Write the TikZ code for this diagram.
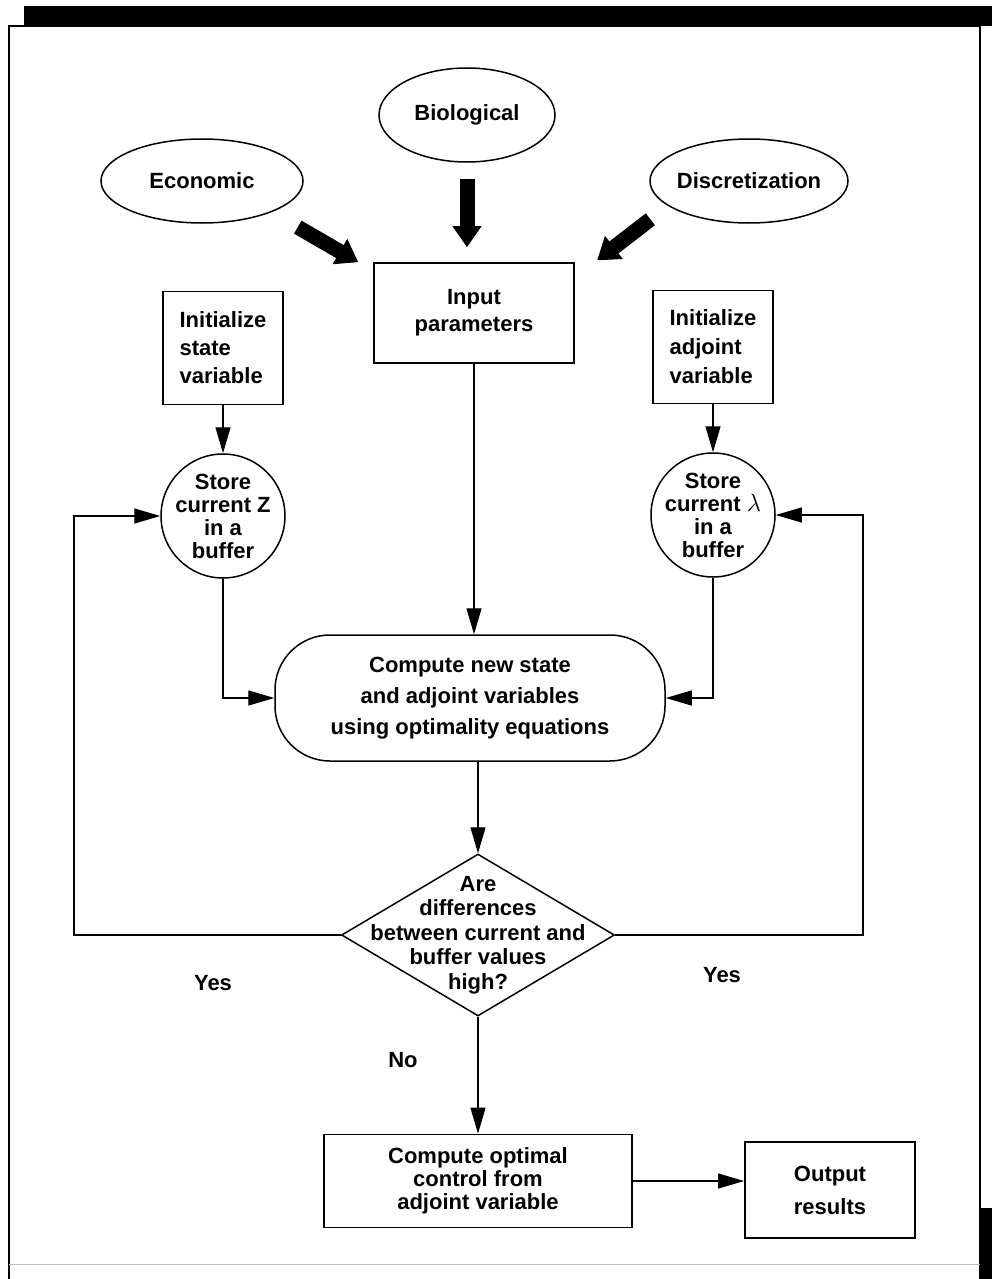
\documentclass[tikz,border=0pt]{standalone}
\usepackage{fontspec}
\setmainfont{Liberation Sans}
\usepackage{tikz}
\usetikzlibrary{shapes.geometric,arrows.meta,positioning,calc}

\begin{document}
\begin{tikzpicture}[x=1pt,y=-1pt,
    txt/.style={font=\fontsize{22}{24}\selectfont\bfseries, align=center},
    lead/.style={font=\fontsize{22}{#1}\selectfont\bfseries},
    source/.style={draw, ellipse, line width=1.5pt, inner sep=0pt},
    box/.style={draw, rectangle, line width=1.8pt, inner sep=0pt, txt},
    store/.style={draw, circle, line width=1.5pt, minimum size=124pt, inner sep=0pt},
    decision/.style={draw, diamond, line width=1.5pt, minimum width=273pt, minimum height=162pt, inner sep=0pt},
    arr/.style={-{Triangle[length=26pt,width=15pt]}, line width=1.3pt},
    bigarr/.style={-{Triangle[length=21pt,width=29pt,line width=1pt]}, line width=15pt}
]
    \useasboundingbox (0,0) rectangle (992,1279);
    \fill[white] (0,0) rectangle (992,1279);

    % Page frame
    \fill (24,6) rectangle (992,26);
    \draw[line width=1.5pt] (9,1279) -- (9,26) -- (980,26) -- (980,1279);
    \fill (980,1208) rectangle (992,1279);
    \draw[gray!50, line width=1pt] (9,1264) -- (980,1264);

    % Parameter sources (top)
    \node[source, minimum width=176pt, minimum height=94pt, label={[txt]center:Biological}] (bio) at (467,115) {};
    \node[source, minimum width=202pt, minimum height=84pt, label={[txt]center:Economic}] (eco) at (202,181) {};
    \node[source, minimum width=198pt, minimum height=84pt, label={[txt]center:Discretization}] (disc) at (749,181) {};

    % Boxes
    \node[box, minimum width=200pt, minimum height=100pt, lead=27] (inp) at (474,313) {Input\\parameters};
    \node[box, minimum width=120pt, minimum height=113pt, align=left, lead=28] (ist) at (223,348) {Initialize\\state\\variable};
    \node[box, minimum width=120pt, minimum height=113pt, align=left, lead=29] (iad) at (713,347) {Initialize\\adjoint\\variable};

    % Buffers
    \node[store, label={[txt,lead=23]center:{Store\\current Z\\in a\\buffer}}] (stz) at (223,516) {};
    \node[store, label={[txt,lead=23]center:{Store\\current {\normalfont\fontsize{30}{30}\selectfont$\lambda$}\\in a\\buffer}}] (stl) at (713,515) {};

    % Iteration
    \node[box, rounded corners=55pt, line width=1.5pt, minimum width=390pt, minimum height=126pt, lead=31] (comp) at (470,698) {Compute new state\\and adjoint variables\\using optimality equations};
    \node[decision, label={[txt,lead=24.5]center:{Are\\differences\\between current and\\buffer values\\high?}}] (dec) at (478,935) {};

    % Results
    \node[box, minimum width=308pt, minimum height=93pt, lead=23] (optc) at (478,1181) {Compute optimal\\control from\\adjoint variable};
    \node[box, minimum width=170pt, minimum height=96pt, lead=33] (outr) at (830,1190) {Output\\results};

    % Branch labels
    \node[txt] (yesl) at (213,983) {Yes};
    \node[txt] (yesr) at (722,975) {Yes};
    \node[txt] (nolab) at (403,1060) {No};

    % Thick input arrows
    \draw[bigarr, shorten <=30pt] (eco.-24) -- ([xshift=-15pt]inp.north west);
    \draw[bigarr, shorten <=16pt, shorten >=15pt] (bio.south) -- (bio.south |- inp.north);
    \draw[bigarr, shorten <=22pt, shorten >=3pt] (disc.-163) -- ([xshift=20pt]inp.north east);

    % Flow
    \draw[arr] (ist) -- (stz);
    \draw[arr] (iad) -- (stl);
    \draw[arr] (stz) |- (comp.west);
    \draw[arr] (stl) |- (comp.east);
    \draw[arr] (inp.south) -- (inp.south |- comp.north);
    \draw[arr] (comp.south -| dec.north) -- (dec.north);
    \draw[arr] (dec) -- (optc);
    \draw[arr] (optc.east) -- (optc.east -| outr.west);

    % Feedback loops
    \coordinate (lbend) at (74,935);
    \coordinate (rbend) at (863,935);
    \draw[arr] (dec.west) -- (lbend) |- (stz.west);
    \draw[arr] (dec.east) -- (rbend) |- (stl.east);
\end{tikzpicture}
\end{document}
